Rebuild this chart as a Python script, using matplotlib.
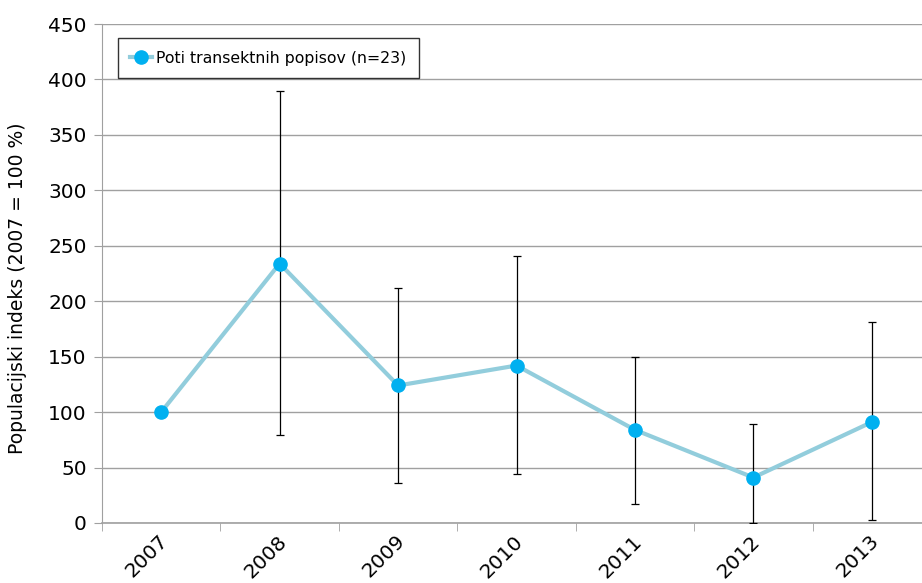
import matplotlib

matplotlib.use("Agg")
import matplotlib.pyplot as plt
import matplotlib.transforms as mtransforms

# Populacijski indeks po letih (2007 = 100 %), z intervali napake
leta = ["2007", "2008", "2009", "2010", "2011", "2012", "2013"]
indeks = [100, 234, 124, 142, 84, 41, 91]
zgornja_meja = [100, 390, 212, 241, 150, 89, 181]
spodnja_meja = [100, 79, 36, 44, 17, 0, 3]

BARVA_CRTE = "#92CDDC"
BARVA_TOCK = "#00B0F0"
SIVA = "#A0A0A0"

fig = plt.figure(figsize=(9.22, 5.83), dpi=100)
ax = fig.add_axes([102 / 922, 60 / 583, 829 / 922, 499 / 583])

x = list(range(len(leta)))
napaka_spodaj = [v - s for v, s in zip(indeks, spodnja_meja)]
napaka_zgoraj = [z - v for v, z in zip(indeks, zgornja_meja)]

ax.errorbar(x, indeks, yerr=[napaka_spodaj, napaka_zgoraj], fmt="none",
            ecolor="black", elinewidth=0.9, capsize=3, capthick=0.9, zorder=3)
ax.plot(x, indeks, color=BARVA_CRTE, linewidth=3, marker="o",
        markersize=9.5, markerfacecolor=BARVA_TOCK, markeredgecolor=BARVA_TOCK,
        label="Poti transektnih popisov (n=23)", zorder=4)

ax.set_xlim(-0.5, len(leta) - 0.5)
ax.set_ylim(0, 450)
ax.set_yticks(range(0, 451, 50))
ax.yaxis.grid(True, color=SIVA, linewidth=1)
ax.set_axisbelow(True)

# letnice pod kotom, rahlo zamaknjene desno od sredine kategorije
ax.set_xticks(x)
ax.set_xticklabels(leta, rotation=45, ha="right", va="center",
                   rotation_mode="anchor", fontsize=14.5)
ax.tick_params(axis="x", length=0, pad=11)
premik = mtransforms.ScaledTranslation(4 / 100, 0, fig.dpi_scale_trans)
for lbl in ax.get_xticklabels():
    lbl.set_transform(lbl.get_transform() + premik)
ax.set_xticks([i - 0.5 for i in range(len(leta) + 1)], minor=True)
ax.tick_params(axis="x", which="minor", length=6, color=SIVA, direction="out")
ax.tick_params(axis="y", length=6, color=SIVA, labelsize=14.5, pad=5)

for s in ["top", "right"]:
    ax.spines[s].set_visible(False)
ax.spines["left"].set_color(SIVA)
ax.spines["bottom"].set_color(SIVA)
ax.spines["bottom"].set_linewidth(1.2)

ax.set_ylabel("Populacijski indeks (2007 = 100 %)", fontsize=13.5)
ax.yaxis.set_label_coords(-0.091, 0.47)

leg = ax.legend(loc="upper left", bbox_to_anchor=(0.019, 0.972), fontsize=11.3,
                frameon=True, fancybox=False, handlelength=1.4,
                handletextpad=0.25, borderpad=0.8, borderaxespad=0)
leg.get_frame().set_edgecolor("black")
leg.get_frame().set_linewidth(1)

fig.savefig("out.png", dpi=100)
